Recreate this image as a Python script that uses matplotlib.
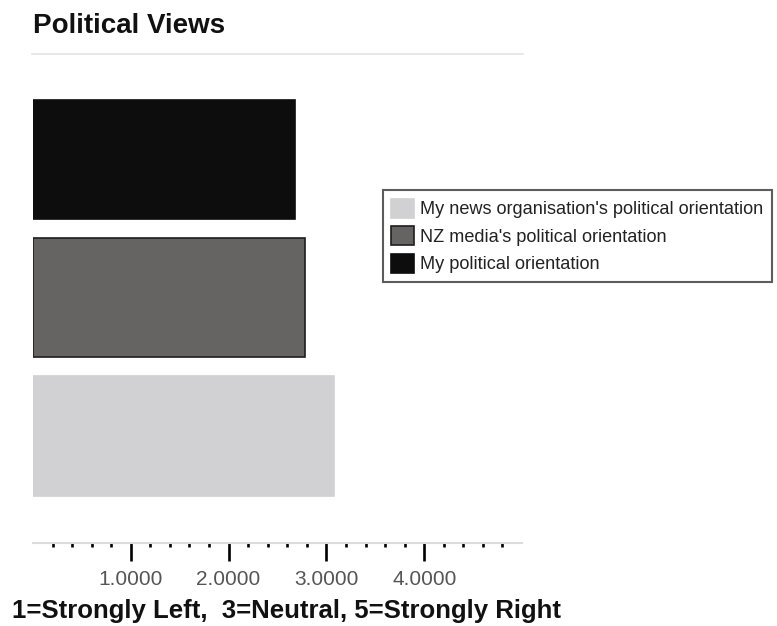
import matplotlib

matplotlib.use("Agg")
import matplotlib.pyplot as plt  # noqa: E402
from matplotlib.lines import Line2D  # noqa: E402
from matplotlib.ticker import FixedLocator, FuncFormatter  # noqa: E402

# data (top-to-bottom bars are drawn bottom-up)
categories = [
    "My news organisation's political orientation",
    "NZ media's political orientation",
    "My political orientation",
]
values = [3.08, 2.78, 2.68]
bar_colors = ["#d1d0d3", "#666462", "#0d0d0d"]
edge_colors = ["#d1d0d3", "#1e1e1e", "#0d0d0d"]
major_ticks = [1, 2, 3, 4]
minor_ticks = [i / 5 for i in range(1, 25) if i % 5]

W, H = 777, 626
plt.rcParams["font.family"] = ["Liberation Sans", "DejaVu Sans"]

fig = plt.figure(figsize=(W / 100, H / 100), dpi=100)
fig.patch.set_facecolor("white")

ax_bottom = 542.5
ax_top = 90.0
ax = fig.add_axes([33 / W, 1 - ax_bottom / H, 489 / W, (ax_bottom - ax_top) / H])

bars = ax.barh(
    range(len(values)),
    values,
    height=0.862,
    color=bar_colors,
    edgecolor=edge_colors,
    linewidth=1.2,
)

ax.set_xlim(0, 5)
ax.set_ylim(-0.77, 2.5)
ax.set_yticks([])
for side in ("top", "right", "left"):
    ax.spines[side].set_visible(False)
ax.spines["bottom"].set_color("#dcdcdc")
ax.spines["bottom"].set_linewidth(1.5)

ax.xaxis.set_major_locator(FixedLocator(major_ticks))
ax.xaxis.set_minor_locator(FixedLocator(minor_ticks))
ax.xaxis.set_major_formatter(FuncFormatter(lambda v, _: f"{v:.4f}"))
ax.tick_params(axis="x", which="major", length=13, width=1.9, color="black",
               pad=7, labelsize=15, labelcolor="#555555")
ax.tick_params(axis="x", which="minor", length=3.2, width=1.9, color="black")

# title and rule under it
fig.text(33 / W, 1 - 33 / H, "Political Views", fontsize=20, fontweight="bold",
         ha="left", va="baseline", color="#111111")
fig.add_artist(Line2D([32 / W, 523 / W], [1 - 53.5 / H, 1 - 53.5 / H],
                      color="#e2e2e2", linewidth=1.1))

fig.text(12.5 / W, 1 - 618 / H, "1=Strongly Left,  3=Neutral, 5=Strongly Right",
         fontsize=18.5, fontweight="bold", ha="left", va="baseline", color="#111111")

leg = ax.legend(
    handles=list(bars),
    labels=categories,
    loc="upper left",
    bbox_to_anchor=(383 / W, 1 - 190.5 / H),
    bbox_transform=fig.transFigure,
    borderaxespad=0,
    fontsize=13.1,
    handlelength=1.25,
    handleheight=1.22,
    handletextpad=0.36,
    labelspacing=0.44,
    borderpad=0.45,
    fancybox=False,
    frameon=True,
)
leg.get_frame().set_edgecolor("#333333")
leg.get_frame().set_linewidth(1.5)
for text in leg.get_texts():
    text.set_color("#222222")

fig.savefig("out.png", dpi=100, facecolor="white")
plt.close(fig)
